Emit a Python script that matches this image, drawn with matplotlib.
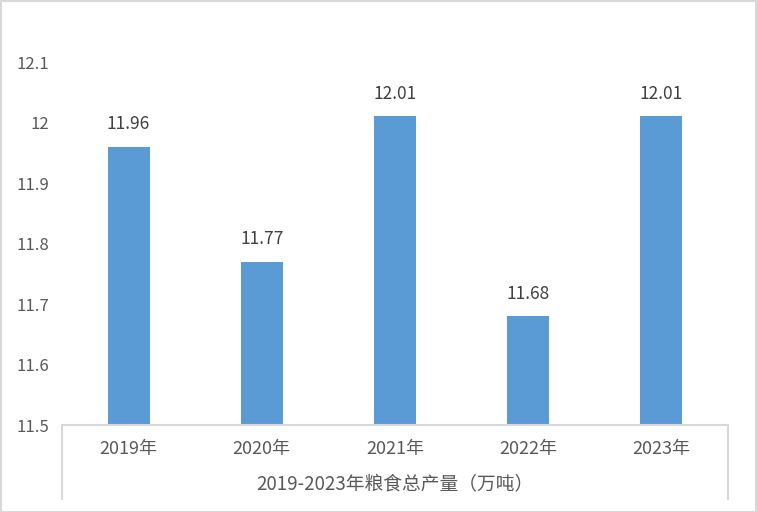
import matplotlib.pyplot as plt
from matplotlib.lines import Line2D
from matplotlib.patches import Rectangle

#----- Data -----
years = [ "2019年", "2020年", "2021年", "2022年", "2023年" ]
output = [ 11.96, 11.77, 12.01, 11.68, 12.01 ]
group_label = "2019-2023年粮食总产量（万吨）"
y_ticks = [ 11.5, 11.6, 11.7, 11.8, 11.9, 12.0, 12.1 ]
y_tick_labels = [ "11.5", "11.6", "11.7", "11.8", "11.9", "12", "12.1" ]

plt.rcParams[ "font.family" ] = [ "Noto Sans CJK SC", "DejaVu Sans" ]

W, H = 757, 512
fig = plt.figure( figsize=(W/100, H/100), dpi=100 )
left, right, bottom, top = 62, 728, 425, 62
ax = fig.add_axes( [ left/W, 1-bottom/H, (right-left)/W, (bottom-top)/H ] )

x = range(len( years ))
bars = ax.bar( x, output, width=0.315, bottom=0, color="#5B9BD5", zorder=2 )
ax.set_xlim( -0.5, len(years)-0.5 )
ax.set_ylim( 11.5, 12.1 )

for i, v in enumerate( output ):
	ax.text( i, v + 0.022, "%.2f" % v, ha="center", va="bottom", fontsize=12.5, color="#404040" )

ax.set_yticks( y_ticks )
ax.set_yticklabels( y_tick_labels, fontsize=12, color="#595959" )
ax.tick_params( axis="y", length=0, pad=9 )
ax.set_xticks( list(x) )
ax.set_xticklabels( years, fontsize=13, color="#595959" )
ax.tick_params( axis="x", length=0, pad=11 )

for s in [ "top", "right", "left" ]:
	ax.spines[s].set_visible( False )
ax.spines["bottom"].set_color( "#D9D9D9" )
ax.spines["bottom"].set_linewidth( 1.5 )

#--- Category table lines and group label ---
for px in [ left, right ]:
	fig.add_artist( Line2D( [px/W, px/W], [1-bottom/H, 1-499/H], color="#D9D9D9", lw=1.5 ) )
fig.text( (left+right)/2/W, 1-485/H, group_label, ha="center", va="center", fontsize=13.5, color="#595959" )

#--- Outer border ---
fig.add_artist( Rectangle( (0.5/W, 0.5/H), 1-1.5/W, 1-1.5/H, transform=fig.transFigure, fill=False, edgecolor="#D9D9D9", lw=1.5 ) )

plt.savefig( "out.png", dpi=100 )
plt.close()
